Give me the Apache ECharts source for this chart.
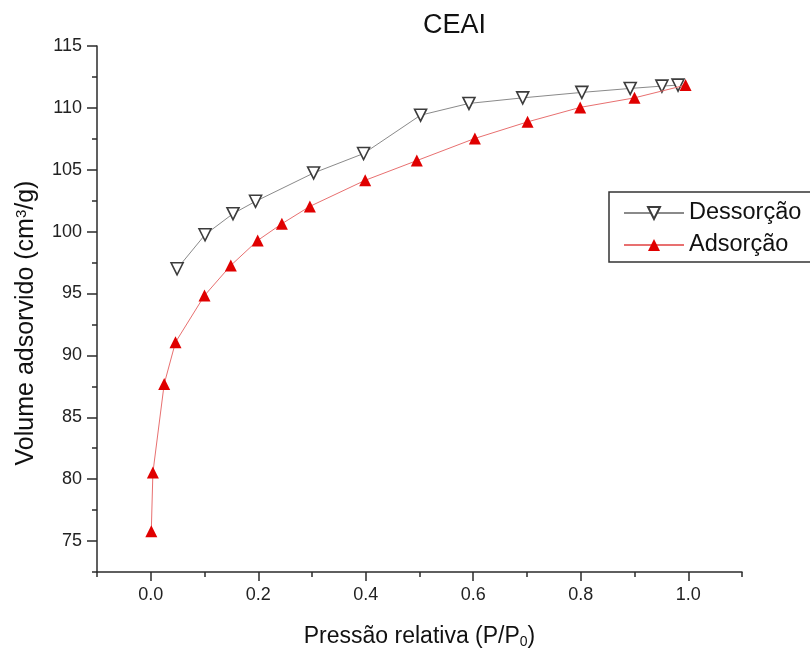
<!DOCTYPE html>
<html>
<head>
<meta charset="utf-8">
<script src="https://cdn.jsdelivr.net/npm/echarts@6/dist/echarts.min.js"></script>
<style>
  html, body { margin: 0; padding: 0; background: #fff; }
  #chart { width: 810px; height: 655px; }
</style>
</head>
<body>
<div id="chart"></div>
<script>
// Nitrogen isotherm of CEAI: relative pressure vs adsorbed volume
const desorptionP = [0.049, 0.101, 0.153, 0.195, 0.303, 0.396, 0.502, 0.592, 0.692, 0.802, 0.892, 0.951, 0.981];
const desorptionV = [97.0, 99.75, 101.45, 102.45, 104.74, 106.31, 109.41, 110.36, 110.81, 111.25, 111.57, 111.76, 111.84];

const adsorptionP = [0.001, 0.004, 0.025, 0.046, 0.100, 0.149, 0.199, 0.244, 0.296, 0.399, 0.495, 0.603, 0.701, 0.799, 0.900, 0.995];
const adsorptionV = [75.8, 80.53, 87.69, 91.06, 94.84, 97.27, 99.29, 100.64, 102.04, 104.15, 105.74, 107.53, 108.87, 110.04, 110.81, 111.84];

const xMajorTicks = [0.0, 0.2, 0.4, 0.6, 0.8, 1.0];
const xMinorTicks = [-0.1, 0.1, 0.3, 0.5, 0.7, 0.9, 1.1];
const yMajorTicks = [75, 80, 85, 90, 95, 100, 105, 110, 115];
const yMinorTicks = [72.5, 77.5, 82.5, 87.5, 92.5, 97.5, 102.5, 107.5, 112.5];

const FONT = '"Liberation Sans", Arial, sans-serif';
const AXIS_COLOR = '#2b2b2b';

const pair = (xs, ys) => xs.map((x, i) => [x, ys[i]]);

const chart = echarts.init(document.getElementById('chart'), null, { renderer: 'canvas' });

const xBase = {
  type: 'value', min: -0.1, max: 1.1, position: 'bottom',
  splitLine: { show: false }
};
const yBase = {
  type: 'value', min: 72.5, max: 115, position: 'left',
  splitLine: { show: false }
};

chart.setOption({
  backgroundColor: '#ffffff',
  animation: false,
  title: {
    text: 'CEAI',
    left: 418, top: 7,
    textStyle: { fontFamily: FONT, fontSize: 27, fontWeight: 'normal', color: '#111' }
  },
  grid: { left: 97, right: 68, top: 46, bottom: 83, containLabel: false },
  legend: {
    orient: 'vertical',
    left: 609, top: 192,
    padding: [9, 24, 5, 14],
    itemWidth: 60, itemHeight: 15, itemGap: 8,
    borderColor: '#333', borderWidth: 1.5,
    textStyle: { fontFamily: FONT, fontSize: 23.5, color: '#111', lineHeight: 24 },
    data: ['Dessorção', 'Adsorção']
  },
  xAxis: [
    Object.assign({}, xBase, {
      name: '{t|Pressão relativa (P/P}{sub|0}{t|)}',
      nameLocation: 'middle', nameGap: 53,
      nameTextStyle: {
        rich: {
          t: { fontFamily: FONT, fontSize: 23, color: '#111' },
          sub: { fontFamily: FONT, fontSize: 14, color: '#111', verticalAlign: 'bottom', padding: [10, 0, 0, 0] }
        }
      },
      axisLine: { onZero: false, lineStyle: { color: AXIS_COLOR, width: 1.5 } },
      axisTick: { show: true, inside: false, length: 9, customValues: xMajorTicks, lineStyle: { color: AXIS_COLOR, width: 1.5 } },
      axisLabel: {
        customValues: xMajorTicks, margin: 14,
        fontFamily: FONT, fontSize: 18, color: '#222',
        formatter: v => v.toFixed(1)
      }
    }),
    Object.assign({}, xBase, {
      axisLine: { show: false, onZero: false },
      axisTick: { show: true, inside: false, length: 5, customValues: xMinorTicks, lineStyle: { color: AXIS_COLOR, width: 1.5 } },
      axisLabel: { show: false }
    })
  ],
  yAxis: [
    Object.assign({}, yBase, {
      name: '{t|Volume adsorvido (cm}{sup|3}{t|/g)}',
      nameLocation: 'middle', nameGap: 58,
      nameTextStyle: {
        padding: [0, 28, 0, 0],
        rich: {
          t: { fontFamily: FONT, fontSize: 25, color: '#111' },
          sup: { fontFamily: FONT, fontSize: 15, color: '#111', verticalAlign: 'top', padding: [0, 0, 10, 0] }
        }
      },
      axisLine: { onZero: false, lineStyle: { color: AXIS_COLOR, width: 1.5 } },
      axisTick: { show: true, inside: false, length: 10, customValues: yMajorTicks, lineStyle: { color: AXIS_COLOR, width: 1.5 } },
      axisLabel: {
        customValues: yMajorTicks, margin: 15,
        fontFamily: FONT, fontSize: 18, color: '#222'
      }
    }),
    Object.assign({}, yBase, {
      axisLine: { show: false, onZero: false },
      axisTick: { show: true, inside: false, length: 5, customValues: yMinorTicks, lineStyle: { color: AXIS_COLOR, width: 1.5 } },
      axisLabel: { show: false }
    })
  ],
  series: [
    {
      name: 'Dessorção',
      type: 'line',
      xAxisIndex: 0, yAxisIndex: 0,
      data: pair(desorptionP, desorptionV),
      symbol: 'triangle', symbolRotate: 180, symbolSize: 12,
      showAllSymbol: true,
      lineStyle: { color: '#8a8a8a', width: 1 },
      itemStyle: { color: '#ffffff', borderColor: '#3c3c3c', borderWidth: 1.6 },
      z: 2
    },
    {
      name: 'Adsorção',
      type: 'line',
      xAxisIndex: 0, yAxisIndex: 0,
      data: pair(adsorptionP, adsorptionV),
      symbol: 'triangle', symbolSize: 12,
      showAllSymbol: true,
      lineStyle: { color: '#e87070', width: 1 },
      itemStyle: { color: '#e00000', borderColor: '#e00000', borderWidth: 0 },
      z: 3
    }
  ]
});
</script>
</body>
</html>
